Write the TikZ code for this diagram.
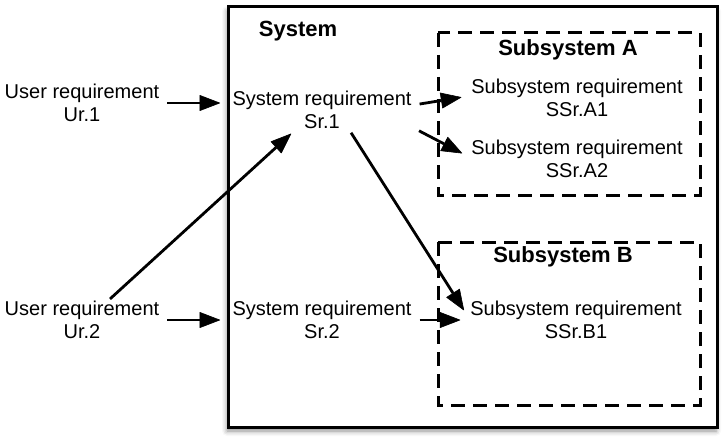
\documentclass[tikz,border=0pt]{standalone}
\usepackage{fontspec}
\setmainfont{Liberation Sans}
\usepackage{tikz}
\usetikzlibrary{arrows.meta,shadows.blur}

\tikzset{
	req/.style={align=center, inner sep=2pt, font=\fontsize{20}{23}\selectfont},
	boxtitle/.style={inner sep=0pt, font=\fontsize{22}{26}\selectfont\bfseries},
	subbox/.style={line width=3pt, dash pattern=on 14pt off 8pt},
	link/.style={->, line width=2.8pt, shorten >=8pt, shorten <=6pt}
}

\begin{document}
\begin{tikzpicture}[x=1pt, y=-1pt, >={Triangle[length=21pt,width=16pt,line width=0.6pt,fill=black,round]}]
			\useasboundingbox (0,0) rectangle (727,441);
			% outer system box
			\draw[line width=3pt, fill=white, blur shadow={shadow xshift=-1pt, shadow yshift=-4pt, shadow blur radius=5pt, shadow opacity=45}]
				(228,7) rectangle (717,427);
			\coordinate (system) at (228,217);
			\node[boxtitle] (systitle) at (298,31) {System};
			% subsystem boxes
			\draw[subbox] (438,33) rectangle (700,195);
			\draw[subbox] (438,242) rectangle (700,405);
			\node[boxtitle] (subatitle) at (568,50) {Subsystem A};
			\node[boxtitle] (subbtitle) at (563,257) {Subsystem B};
			% requirements
			\node[req] (ur1) at (82,103) {User requirement\\Ur.1};
			\node[req] (ur2) at (82,320) {User requirement\\Ur.2};
			\node[req] (sr1) at (322,110) {System requirement\\Sr.1};
			\node[req] (sr2) at (322,320) {System requirement\\Sr.2};
			\node[req] (ssra1) at (577,98) {Subsystem requirement\\SSr.A1};
			\node[req] (ssra2) at (577,159) {Subsystem requirement\\SSr.A2};
			\node[req] (ssrb1) at (576,320) {Subsystem requirement\\SSr.B1};
			% traces
			\draw[link] (ur1.east) -- (ur1.east -| system);
			\draw[link] (ur2.east) -- (ur2.east -| system);
			\draw[link, shorten <=0pt, shorten >=4pt] ([xshift=28pt]ur2.north) -- ([xshift=-28pt]sr1.south);
			\draw[link] ([yshift=5pt]sr1.east) -- ([yshift=2pt]ssra1.west);
			\draw[link] ([yshift=-18pt]sr1.east) -- ([yshift=2pt]ssra2.west);
			\draw[link, shorten <=2pt] ([xshift=28pt]sr1.south) -- ([yshift=3pt]ssrb1.west);
			\draw[link] (sr2.east) -- (ssrb1.west);
		\end{tikzpicture}
\end{document}
